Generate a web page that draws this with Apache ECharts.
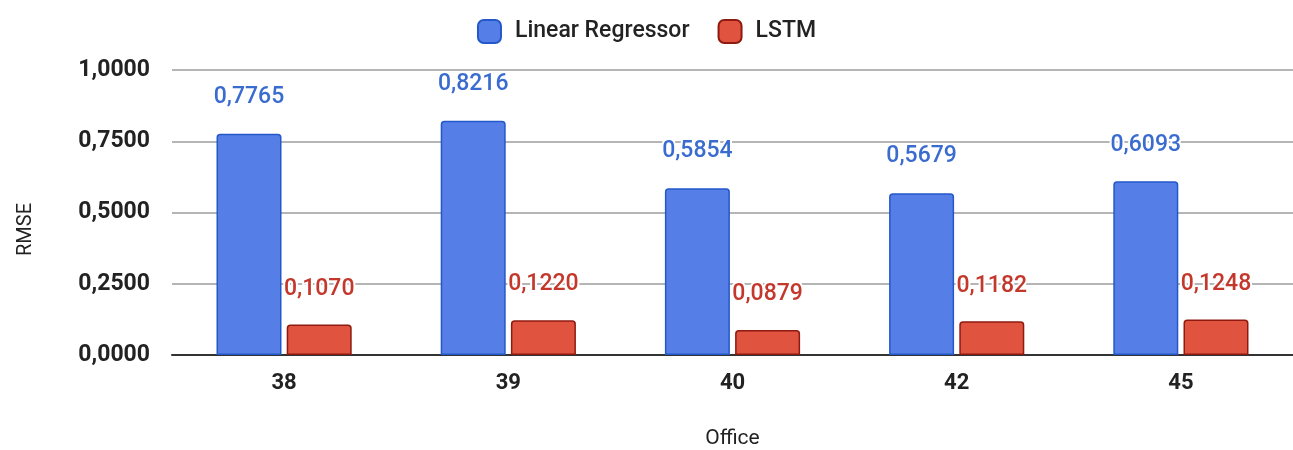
<!DOCTYPE html>
<html>
<head>
<meta charset="utf-8">
<script src="https://cdn.jsdelivr.net/npm/echarts@6/dist/echarts.min.js"></script>
<style>
  html, body { margin: 0; padding: 0; background: #fff; }
  #chart { width: 1293px; height: 450px; }
</style>
</head>
<body>
<div id="chart"></div>
<script>
// offices and RMSE values
var offices = ['38', '39', '40', '42', '45'];
var linearRegressor = [0.7765, 0.8216, 0.5854, 0.5679, 0.6093];
var lstm = [0.1070, 0.1220, 0.0879, 0.1182, 0.1248];

var font = 'Roboto, sans-serif';

function comma(v) {
    return v.toFixed(4).replace('.', ',');
}

var chart = echarts.init(document.getElementById('chart'));

var option = {
    animation: false,
    legend: {
        top: 14,
        left: 'center',
        itemWidth: 23,
        itemHeight: 23,
        itemGap: 28,
        icon: 'roundRect',
        textStyle: { fontFamily: font, fontSize: 23, color: '#222', fontWeight: 500, padding: [0, 0, 0, 9] },
        data: ['Linear Regressor', 'LSTM']
    },
    grid: {
        left: 172,
        right: 0,
        top: 70,
        bottom: 95,
        outerBoundsMode: 'none',
        containLabel: false
    },
    xAxis: {
        type: 'category',
        data: offices,
        name: 'Office',
        nameLocation: 'middle',
        nameGap: 73,
        nameTextStyle: { fontFamily: font, fontSize: 21, color: '#222' },
        axisTick: { show: false },
        axisLine: { lineStyle: { color: '#333', width: 2 } },
        axisLabel: { fontFamily: font, fontSize: 22, color: '#222', fontWeight: 'bold', margin: 17 }
    },
    yAxis: {
        type: 'value',
        min: 0,
        max: 1,
        interval: 0.25,
        name: 'RMSE',
        nameLocation: 'middle',
        nameGap: 136,
        nameRotate: 90,
        nameTextStyle: { fontFamily: font, fontSize: 20, color: '#222', padding: [0, 34, 0, 0] },
        axisLine: { show: false },
        axisTick: { show: false },
        splitLine: { lineStyle: { color: '#b5b5b5', width: 2 } },
        axisLabel: {
            fontFamily: font, fontSize: 23, color: '#222', fontWeight: 'bold', margin: 22,
            formatter: comma
        }
    },
    series: [
        {
            name: 'Linear Regressor',
            type: 'bar',
            data: linearRegressor,
            barWidth: 65,
            barGap: '8%',
            itemStyle: { color: '#557fe7', borderColor: '#2458c9', borderWidth: 1.5, borderRadius: [3, 3, 0, 0] },
            label: {
                show: true,
                position: 'top',
                distance: 25,
                fontFamily: font,
                fontSize: 23,
                fontWeight: 500,
                color: '#3a6cd0',
                textBorderColor: '#fff',
                textBorderWidth: 4,
                formatter: function (p) { return comma(p.value); }
            }
        },
        {
            name: 'LSTM',
            type: 'bar',
            data: lstm,
            barWidth: 65,
            itemStyle: { color: '#e0533f', borderColor: '#8e1a10', borderWidth: 1.5, borderRadius: [3, 3, 0, 0] },
            label: {
                show: true,
                position: 'top',
                distance: 24,
                fontFamily: font,
                fontSize: 23,
                fontWeight: 500,
                color: '#c4382c',
                textBorderColor: '#fff',
                textBorderWidth: 4,
                formatter: function (p) { return comma(p.value); }
            }
        }
    ]
};

chart.setOption(option);
</script>
</body>
</html>
